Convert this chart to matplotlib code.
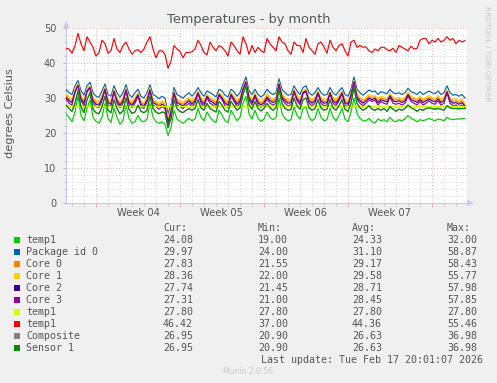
import matplotlib
matplotlib.use("Agg")
import matplotlib.pyplot as plt
import matplotlib.dates as mdates
from matplotlib.patches import Rectangle, Polygon
from matplotlib.transforms import blended_transform_factory
import pandas as pd

# ---------------- data ----------------
start_time = "2026-01-15 12:00"
sample_hours = 6
x_end = "2026-02-17 22:00"

temp1_green = [25.5, 24.5, 23.2, 26, 30.5, 25, 23.5, 27, 29.5, 24.5, 23.3, 22.8, 24.5, 28.5, 24.2, 23, 27, 24.5, 22.5, 23.5, 28, 24.2, 22.8, 23.2, 25, 23.5, 23.2, 24, 28.5, 24.5, 23.2, 22.8, 23.2, 22.5,
               19.3, 21.5, 26.5, 24, 23.3, 22.8, 23.5, 24.2, 23.5, 24, 27, 24.5, 23.5, 26, 24.5, 23.5, 23, 26.5, 25.2, 23.5, 23, 26.5, 25, 23.5, 24.5, 28.5, 30.5, 25.5, 24, 26.5, 24.2, 23.3, 24,
               26, 24.5, 23.8, 24.5, 30, 25.5, 24.2, 23.5, 23.8, 27.5, 25, 24, 27, 27.5, 24.5, 23.5, 24.2, 27, 24.5, 23.5, 23.8, 27, 24.5, 23.5, 25, 27, 24, 23.2, 26, 30, 25.5, 24.2, 23.5,
               23.5, 24.2, 23.2, 22.8, 24, 23.5, 23.8, 23.2, 24.5, 23.5, 23.2, 23.8, 23.5, 24, 25, 24.2, 23.8, 23.2, 23.8, 23.5, 23.8, 24.2, 23.8, 23.5, 24, 23.8, 23.5, 24.5, 24, 23.8, 24, 24, 24.1, 24.1]

package_id0 = [32.5, 31.5, 31, 33.5, 35, 32, 30.8, 33.5, 34.5, 31.5, 30.5, 30.2, 32, 34, 31, 30.5, 33.5, 31.5, 30.2, 31.5, 33.8, 31, 30.2, 31.5, 32.5, 30.5, 30, 31.5, 33.8, 31, 30.5, 29.8, 30.5, 30,
               25.5, 28, 33, 31, 30.5, 30, 30.8, 31.5, 30.5, 31.5, 33, 31.5, 30.5, 32, 31.5, 31, 30.3, 32.5, 32, 30.8, 30.3, 32.5, 31.8, 30.5, 31.5, 34, 36, 32, 31, 32.5, 31, 30.3, 31,
               32.5, 31.5, 31, 31.5, 35.5, 32.5, 31.5, 30.8, 31, 33.5, 32, 31, 33, 33.5, 31.5, 30.8, 31.5, 33, 31.5, 30.8, 31, 33, 31.5, 30.8, 32, 33, 31, 30.5, 32.5, 36, 32.5, 31.5, 30.8,
               31.5, 32.3, 31.8, 32, 31, 31.8, 31.5, 31.2, 32.5, 31.5, 31.2, 31.5, 31, 31.5, 32.8, 31.8, 31.5, 31, 31.8, 31, 31.5, 32, 31.5, 31.2, 32, 31, 31.5, 33.5, 31.5, 30.8, 31, 30.5, 31, 30]

core0 = [30.7, 29.7, 29.2, 32.2, 33.8, 30.2, 29.0, 32.3, 33.3, 29.7, 28.7, 28.4, 30.3, 32.8, 29.2, 28.7, 32.3, 29.7, 28.4, 29.7, 32.6, 29.2, 28.4, 29.7, 31.2, 28.7, 28.2, 29.8, 32.6, 29.2, 28.7, 28.0, 28.7, 28.2,
         23.5, 26.5, 31.8, 29.2, 28.7, 28.2, 29.0, 29.7, 28.7, 29.7, 31.8, 29.7, 28.7, 30.8, 29.7, 29.2, 28.5, 31.3, 30.4, 29.0, 28.5, 31.3, 30.0, 28.7, 29.7, 32.8, 34.8, 30.4, 29.2, 31.2, 29.2, 28.5, 29.2,
         30.7, 29.7, 29.2, 29.7, 34.3, 30.7, 29.7, 29.0, 29.2, 32.3, 30.2, 29.2, 31.8, 32.3, 29.7, 29.0, 29.7, 31.8, 29.7, 29.0, 29.2, 31.8, 29.7, 29.0, 30.2, 31.8, 29.2, 28.7, 31.2, 34.8, 30.7, 29.7, 29.0,
         29.7, 30.5, 30.0, 30.4, 29.2, 30.0, 29.7, 29.4, 31.0, 29.7, 29.4, 29.7, 29.2, 29.7, 31.4, 30.0, 29.7, 29.2, 30.0, 29.2, 29.7, 30.2, 29.7, 29.4, 30.2, 29.2, 29.7, 32.2, 29.7, 29.0, 29.2, 28.7, 29.2, 27.8]

core1 = [31.2, 30.2, 29.7, 32.5, 34.2, 30.7, 29.5, 32.6, 33.6, 30.2, 29.2, 28.9, 30.8, 33.1, 29.7, 29.2, 32.6, 30.2, 28.9, 30.2, 32.9, 29.7, 28.9, 30.2, 31.5, 29.2, 28.7, 30.3, 32.9, 29.7, 29.2, 28.5, 29.2, 28.7,
         24.5, 27, 32, 29.7, 29.2, 28.7, 29.5, 30.2, 29.2, 30.2, 32, 30.2, 29.2, 31, 30.2, 29.7, 29, 31.6, 30.9, 29.5, 29, 31.6, 30.6, 29.2, 30.3, 33, 35, 30.9, 29.7, 31.5, 29.7, 29, 29.7,
         31.3, 30.2, 29.7, 30.3, 34.5, 31.3, 30.2, 29.5, 29.7, 32.6, 30.8, 29.7, 32, 32.6, 30.2, 29.5, 30.3, 32, 30.2, 29.5, 29.7, 32, 30.2, 29.5, 30.8, 32, 29.7, 29.2, 31.4, 35, 31.3, 30.2, 29.5,
         30.2, 31, 30.5, 30.7, 29.7, 30.5, 30.2, 29.9, 31.3, 30.2, 29.9, 30.2, 29.7, 30.2, 31.7, 30.5, 30.2, 29.7, 30.5, 29.7, 30.2, 30.7, 30.2, 29.9, 30.7, 29.7, 30.2, 32.4, 30.2, 29.5, 29.7, 29.2, 29.7, 28.4]

core2 = [30.2, 29.2, 28.7, 31.8, 33.6, 29.7, 28.5, 32.0, 33.0, 29.2, 28.2, 27.9, 29.8, 32.5, 28.7, 28.2, 32.0, 29.2, 27.9, 29.2, 32.3, 28.7, 27.9, 29.2, 30.9, 28.2, 27.7, 29.3, 32.3, 28.7, 28.2, 27.5, 28.2, 27.7,
         23.0, 26.0, 31.5, 28.7, 28.2, 27.7, 28.5, 29.2, 28.2, 29.2, 31.5, 29.2, 28.2, 30.5, 29.2, 28.7, 28.0, 31.0, 30.0, 28.5, 28.0, 31.0, 29.6, 28.2, 29.2, 32.5, 34.6, 30.0, 28.7, 30.8, 28.7, 28.0, 28.7,
         30.2, 29.2, 28.7, 29.2, 34.0, 30.2, 29.2, 28.5, 28.7, 32.0, 29.7, 28.7, 31.5, 32.0, 29.2, 28.5, 29.2, 31.5, 29.2, 28.5, 28.7, 31.5, 29.2, 28.5, 29.7, 31.5, 28.7, 28.2, 30.8, 34.6, 30.2, 29.2, 28.5,
         29.2, 30.0, 29.5, 29.9, 28.7, 29.5, 29.2, 28.9, 30.6, 29.2, 28.9, 29.2, 28.7, 29.2, 31.0, 29.5, 29.2, 28.7, 29.5, 28.7, 29.2, 29.7, 29.2, 28.9, 29.7, 28.7, 29.2, 31.8, 29.2, 28.5, 28.7, 28.2, 28.7, 27.7]

core3 = [29.7, 28.5, 28.0, 31.5, 33.5, 29.2, 27.8, 31.8, 32.8, 28.5, 27.5, 27.2, 29.3, 32.3, 28.0, 27.5, 31.8, 28.5, 27.2, 28.5, 32.0, 28.0, 27.2, 28.5, 30.5, 27.5, 27.0, 28.8, 32.0, 28.0, 27.5, 26.8, 27.5, 27.0,
         22.0, 25.5, 31.2, 28.0, 27.5, 27.0, 27.8, 28.5, 27.5, 28.5, 31.2, 28.5, 27.5, 30.0, 28.5, 28.0, 27.3, 30.7, 29.5, 27.8, 27.3, 30.7, 29.0, 27.5, 28.5, 32.2, 34.5, 29.5, 28.0, 30.4, 28.0, 27.3, 28.0,
         29.7, 28.5, 28.0, 28.5, 33.8, 29.7, 28.5, 27.8, 28.0, 31.8, 29.2, 28.0, 31.2, 31.8, 28.5, 27.8, 28.5, 31.2, 28.5, 27.8, 28.0, 31.2, 28.5, 27.8, 29.2, 31.2, 28.0, 27.5, 30.4, 34.5, 29.7, 28.5, 27.8,
         28.5, 29.5, 29.0, 29.4, 28.0, 29.0, 28.5, 28.2, 30.2, 28.5, 28.2, 28.5, 28.0, 28.5, 30.6, 29.0, 28.5, 28.0, 29.0, 28.0, 28.5, 29.2, 28.5, 28.2, 29.2, 28.0, 28.5, 31.5, 28.5, 27.8, 28.0, 27.5, 28.0, 27.3]

temp1_lime = [27.8, 27.8]  # constant sensor, first and last sample

temp1_red = [44.2, 44.0, 42.8, 45.0, 48.5, 45.5, 43.5, 47.5, 46.0, 44.5, 42.0, 43.0, 46.5, 45.5, 42.8, 43.5, 47.0, 44.0, 43.0, 45.0, 46.0, 44.0, 42.5, 43.5, 43.8, 43.0, 44.0, 46.0, 47.5, 44.0, 41.5, 43.5, 43.5, 42.5,
             38.5, 40.5, 45.0, 44.0, 43.3, 41.5, 43.0, 43.0, 43.2, 44.0, 46.5, 45.0, 43.0, 42.3, 46.0, 44.5, 43.5, 45.0, 44.5, 43.5, 42.0, 46.0, 45.0, 43.6, 42.5, 47.5, 45.5, 42.5, 45.0, 43.0, 44.5, 43.5, 43.0,
             47.0, 45.5, 44.5, 43.5, 47.5, 46.0, 45.5, 43.5, 42.5, 46.0, 45.0, 45.0, 43.0, 47.0, 44.5, 43.5, 42.5, 45.5, 46.0, 44.5, 42.8, 46.5, 44.5, 43.5, 45.0, 45.5, 43.5, 42.0, 46.0, 46.5, 44.5, 45.0, 44.5,
             44.6, 43.5, 43.0, 44.0, 43.5, 44.5, 44.5, 43.8, 43.5, 44.2, 43.0, 45.0, 44.5, 44.0, 43.5, 44.8, 44.0, 44.2, 46.5, 47.0, 47.0, 45.5, 46.5, 46.0, 47.0, 46.0, 46.5, 47.5, 46.5, 47.0, 45.5, 46.5, 46.0, 46.4]

sensor1 = [28, 27, 26.2, 28.5, 32, 27.5, 25.8, 29.5, 31.5, 26.8, 25.8, 25.5, 27.5, 30.5, 26.5, 25.8, 29.5, 27, 25.5, 26.3, 30, 26.8, 25.6, 26, 28, 26.2, 25.8, 26.5, 30.5, 27, 26, 25.5, 26, 25.8,
           21.5, 24, 29.5, 27, 26.2, 25.8, 26.5, 27, 26.5, 27, 29.5, 27.2, 26.5, 28.5, 27, 26.5, 26, 29, 28, 26.5, 26, 29, 27.8, 26.5, 27.2, 31, 33.5, 28, 26.8, 29, 27, 26.3, 27,
           28.5, 27.2, 26.5, 27.2, 32.5, 28.5, 27, 26.5, 26.7, 30, 27.8, 26.8, 29.5, 30, 27.2, 26.5, 27, 29.5, 27.2, 26.5, 26.8, 29.5, 27.2, 26.5, 27.8, 29.5, 26.8, 26.2, 28.5, 33, 28.5, 27.2, 26.5,
           27, 27.8, 26.8, 26.5, 27, 26.5, 27, 26.2, 27.5, 26.8, 26.2, 26.8, 26.5, 27, 28, 27.2, 26.8, 26.2, 26.8, 26.5, 27, 27.2, 27, 26.8, 27, 26.8, 26.5, 27.8, 27.2, 27, 27, 26.9, 27, 26.95]

composite = list(sensor1)  # Composite reads identical to Sensor 1

legend_names = ["temp1", "Package id 0", "Core 0", "Core 1", "Core 2", "Core 3", "temp1", "temp1", "Composite", "Sensor 1"]
legend_colors = ["#00cc00", "#0066b3", "#ff8000", "#ffcc00", "#330099", "#990099", "#ccff00", "#ff0000", "#808080", "#008f00"]
cur_vals = [24.08, 29.97, 27.83, 28.36, 27.74, 27.31, 27.80, 46.42, 26.95, 26.95]
min_vals = [19.00, 24.00, 21.55, 22.00, 21.45, 21.00, 27.80, 37.00, 20.90, 20.90]
avg_vals = [24.33, 31.10, 29.17, 29.58, 28.71, 28.45, 27.80, 44.36, 26.63, 26.63]
max_vals = [32.00, 58.87, 58.43, 55.77, 57.98, 57.85, 27.80, 55.46, 36.98, 36.98]

week_labels = ["Week 04", "Week 05", "Week 06", "Week 07"]
week_starts = ["2026-01-18", "2026-01-25", "2026-02-01", "2026-02-08"]

series = [temp1_green, package_id0, core0, core1, core2, core3, None, temp1_red, composite, sensor1]

# ---------------- figure ----------------
W, H = 497, 383
fig = plt.figure(figsize=(W / 100, H / 100), dpi=100, facecolor="#f0f0f0")

def fx(px):
    return px / W

def fy(py):
    return 1 - py / H

ax = fig.add_axes([fx(66), fy(203), fx(467) - fx(66), (203 - 28) / H])
ax.set_facecolor("white")

times = pd.date_range(start_time, periods=len(temp1_red), freq=f"{sample_hours}h")
tnum = mdates.date2num(times.to_pydatetime())
t_lime = [tnum[0], tnum[-1]]

for vals, col in zip(series, legend_colors):
    if vals is None:
        ax.plot(t_lime, temp1_lime, color=col, lw=1.0, zorder=3)
    else:
        ax.plot(tnum, vals, color=col, lw=0.85, zorder=3)

x0 = mdates.date2num(pd.Timestamp(start_time).to_pydatetime())
x1 = mdates.date2num(pd.Timestamp(x_end).to_pydatetime())
ax.set_xlim(x0, x1)
ax.set_ylim(0, 50)

# grid
ax.xaxis.set_major_locator(mdates.WeekdayLocator(byweekday=mdates.SU))
ax.xaxis.set_minor_locator(mdates.DayLocator())
ax.xaxis.set_major_formatter(plt.NullFormatter())
ax.set_yticks(range(0, 51, 10))
ax.set_yticks(range(0, 51, 2), minor=True)
ax.grid(which="minor", color="#d4d4d4", linestyle=(0, (1, 2)), lw=0.7, zorder=1)
ax.grid(which="major", color="#e8a8a8", linestyle=(0, (1, 2)), lw=0.7, zorder=1)
ax.tick_params(axis="x", which="major", length=3, color="#e8a8a8", width=0.7, pad=1)
ax.tick_params(axis="x", which="minor", length=2, color="#c8c8c8", width=0.7)
ax.tick_params(axis="y", which="major", length=2, color="#e8a8a8", width=0.7,
               labelsize=7, labelcolor="#555555", pad=5)
ax.tick_params(axis="y", which="minor", length=1.5, color="#c8c8c8", width=0.7)

for s in ["top", "right"]:
    ax.spines[s].set_visible(False)
for s in ["left", "bottom"]:
    ax.spines[s].set_color("#c8c8e8")
    ax.spines[s].set_linewidth(0.8)

# axis arrows
fig.patches.append(Polygon([[fx(63), fy(28)], [fx(69.5), fy(28)], [fx(66.2), fy(21)]],
                           closed=True, transform=fig.transFigure, facecolor="#c8c8f0", edgecolor="none"))
fig.patches.append(Polygon([[fx(467), fy(199.5)], [fx(467), fy(206.5)], [fx(474), fy(203)]],
                           closed=True, transform=fig.transFigure, facecolor="#c8c8f0", edgecolor="none"))

# week labels
trans = blended_transform_factory(ax.transData, fig.transFigure)
for lab, ws in zip(week_labels, week_starts):
    xc = mdates.date2num((pd.Timestamp(ws) + pd.Timedelta(hours=84)).to_pydatetime())
    ax.text(xc, fy(213), lab, transform=trans, ha="center", va="center", fontsize=7.2, color="#555555")

# titles
fig.text(0.5, fy(19), "Temperatures - by month", ha="center", va="center", fontsize=9.3, color="#555555")
fig.text(fx(10), fy(113), "degrees Celsius", rotation=90, ha="center", va="center", fontsize=8.2, color="#555555")
fig.text(fx(487), fy(54), "RRDTOOL / TOBI OETIKER", rotation=270, ha="center", va="center",
         fontsize=5.4, color="#c8c8c8")

# legend
mono = "DejaVu Sans Mono"
col_x = [163, 258, 352, 447]
for hx, hd in zip(col_x, ["Cur:", "Min:", "Avg:", "Max:"]):
    fig.text(fx(hx), fy(228), hd, ha="left", va="center", fontsize=7.2, family=mono, color="#555555")
for i, name in enumerate(legend_names):
    yy = 240 + 12 * i
    fig.patches.append(Rectangle((fx(14), fy(yy + 3)), fx(6), 6 / H, transform=fig.transFigure,
                                 facecolor=legend_colors[i], edgecolor="none"))
    fig.text(fx(26), fy(yy), name, ha="left", va="center", fontsize=7.2, family=mono, color="#555555")
    for cx, v in zip(col_x, [cur_vals[i], min_vals[i], avg_vals[i], max_vals[i]]):
        fig.text(fx(cx), fy(yy), f"{v:5.2f}", ha="left", va="center", fontsize=7.2, family=mono, color="#555555")

fig.text(fx(483), fy(360), "Last update: Tue Feb 17 20:01:07 2026", ha="right", va="center",
         fontsize=7.2, family=mono, color="#555555")
fig.text(fx(248), fy(372), "Munin 2.0.56", ha="center", va="center", fontsize=5.5, color="#c8c8c8")

fig.savefig("out.png", dpi=100, facecolor=fig.get_facecolor())
